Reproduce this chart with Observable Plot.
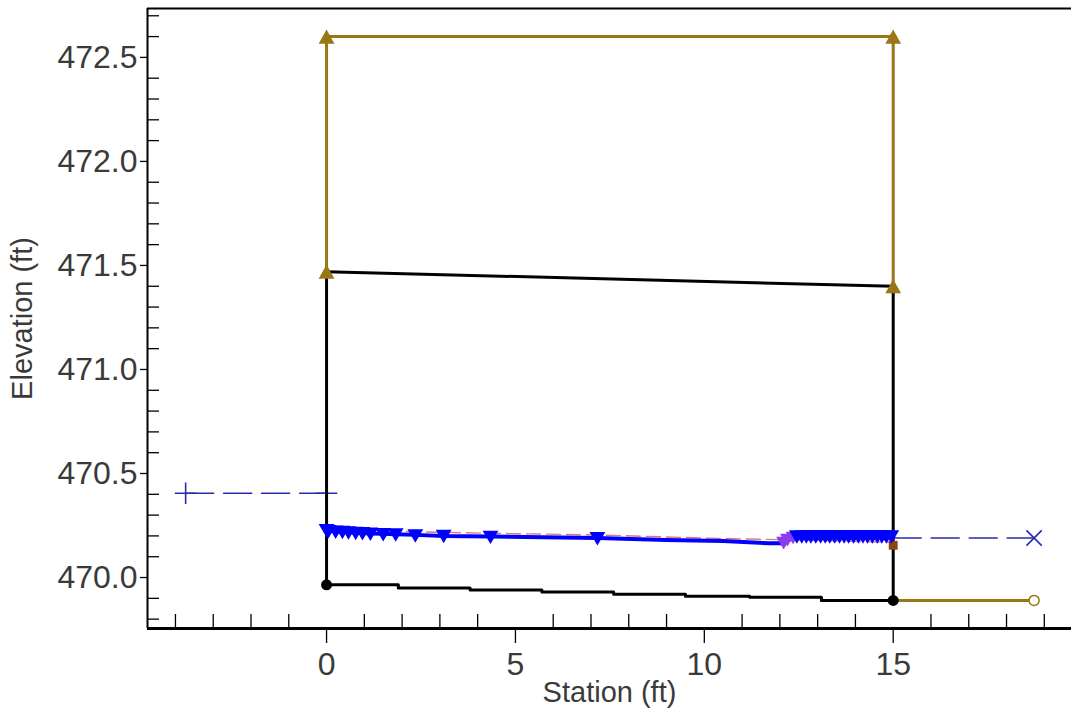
<!DOCTYPE html>
<html><head><meta charset="utf-8">
<script src="https://cdn.jsdelivr.net/npm/d3@7"></script>
<script src="https://cdn.jsdelivr.net/npm/@observablehq/plot@0.6"></script>
<style>body{margin:0;background:#fff;} svg{display:block}</style>
</head><body><div id="chart"></div>
<script>
// ---- data ----
const deckStation = [0, 0, 15, 15];
const deckElev = [471.47, 472.60, 472.60, 471.40];

const topChordStation = [0, 15];
const topChordElev = [471.47, 471.40];
const leftWallStation = [0, 0];
const leftWallElev = [469.965, 471.47];
const rightWallStation = [15, 15];
const rightWallElev = [471.40, 469.89];
const groundStation = [0, 1.9, 3.8, 5.7, 7.6, 9.5, 11.2, 13.1, 15];
const groundElev = [469.965, 469.95, 469.94, 469.93, 469.92, 469.91, 469.905, 469.89, 469.89];

const upWsStation = [-3.73, 0];
const upWsElev = [470.405, 470.405];
const dnWsStation = [15, 18.73];
const dnWsElev = [470.19, 470.19];
const dnGroundStation = [15, 18.73];
const dnGroundElev = [469.89, 469.89];

const egStation = [0, 2.0, 4.3, 7.2, 10.0, 12.1, 15];
const egElev = [470.232, 470.212, 470.203, 470.195, 470.18, 470.172, 470.16];

const wsStation = [0, 0.05, 0.24, 0.42, 0.58, 0.77, 0.95, 1.16, 1.5, 1.83, 2.35, 3.1, 4.34, 7.17, 9.0, 10.5, 11.7, 12.1, 12.3, 12.5, 15];
const wsElev = [470.23, 470.225, 470.222, 470.22, 470.218, 470.216, 470.214, 470.212, 470.21, 470.208, 470.205, 470.2, 470.197, 470.19, 470.18, 470.175, 470.165, 470.165, 470.19, 470.2, 470.2];

const wsMarkStation = [0, 0.05, 0.24, 0.42, 0.58, 0.77, 0.95, 1.16, 1.5, 1.83, 2.35, 3.1, 4.34, 7.17,
  12.45, 12.58, 12.7, 12.82, 12.95, 13.08, 13.2, 13.32, 13.45, 13.58, 13.7, 13.82, 13.95, 14.08, 14.2, 14.32, 14.45, 14.58, 14.7, 14.82, 14.95];
const wsMarkElev = [470.225, 470.22, 470.218, 470.216, 470.214, 470.212, 470.21, 470.208, 470.206, 470.204, 470.2, 470.197, 470.193, 470.186,
  470.195, 470.195, 470.195, 470.195, 470.195, 470.195, 470.195, 470.195, 470.195, 470.195, 470.195, 470.195, 470.195, 470.195, 470.195, 470.195, 470.195, 470.195, 470.195, 470.195, 470.195];

const purpleStation = [12.1, 12.2, 12.35];
const purpleElev = [470.165, 470.18, 470.19];

const xMajorTicks = [0, 5, 10, 15];
const xMinorTicks = [-4, -3, -2, -1, 1, 2, 3, 4, 6, 7, 8, 9, 11, 12, 13, 14, 16, 17, 18, 19];
const yMajorTicks = [470.0, 470.5, 471.0, 471.5, 472.0, 472.5];
const yMinorTicks = [469.8, 469.9, 470.1, 470.2, 470.3, 470.4, 470.6, 470.7, 470.8, 470.9, 471.1, 471.2, 471.3, 471.4, 471.6, 471.7, 471.8, 471.9, 472.1, 472.2, 472.3, 472.4, 472.6, 472.7];

// ---- helpers ----
const zip = (xs, ys) => xs.map((x, i) => ({x, y: ys[i]}));
const triDown = {draw(ctx, size) {
  const s = Math.sqrt(size) * 1.05;
  const h = s * 0.85;
  ctx.moveTo(-s / 2, -h / 2);
  ctx.lineTo(s / 2, -h / 2);
  ctx.lineTo(0, h / 2);
  ctx.closePath();
}};
const triUp = {draw(ctx, size) {
  const s = Math.sqrt(size) * 1.05;
  const h = s * 0.9;
  ctx.moveTo(-s / 2, h / 2);
  ctx.lineTo(s / 2, h / 2);
  ctx.lineTo(0, -h / 2);
  ctx.closePath();
}};

const gold = "#9a7614";
const blue = "#0000ff";
const navy = "#2b2bb0";
const W = 1071, H = 712, ML = 147, MR = 0, MT = 8, MB = 84;
const plotW = W - ML - MR, plotH = H - MT - MB;
const xDom = [-4.74, 19.72], yDom = [469.755, 472.735];
const font = "Liberation Sans, Arial, sans-serif";
const textColor = "#3a3a3a";

const chart = Plot.plot({
  width: W, height: H,
  marginLeft: ML, marginRight: MR, marginTop: MT, marginBottom: MB,
  x: {domain: xDom},
  y: {domain: yDom},
  style: {fontFamily: font, background: "white", color: textColor, overflow: "visible"},
  marks: [
    // frame (top, bottom, left)
    Plot.ruleY([yDom[1]], {stroke: "black", strokeWidth: 1.8}),
    Plot.ruleY([yDom[0]], {stroke: "black", strokeWidth: 3}),
    Plot.ruleX([xDom[0]], {stroke: "black", strokeWidth: 2}),
    // minor ticks inside
    Plot.tickX(xMinorTicks, {x: d => d, stroke: "black", strokeWidth: 1.3, insetTop: plotH - 14}),
    Plot.tickY(yMinorTicks, {y: d => d, stroke: "black", strokeWidth: 1.3, insetRight: plotW - 12}),
    // major axes
    Plot.axisX(xMajorTicks, {tickSize: 15, tickPadding: 9, fontSize: 32, label: null, strokeWidth: 1.3, stroke: "black", tickFormat: d => String(d)}),
    Plot.axisY(yMajorTicks, {tickSize: 7, tickPadding: 3, fontSize: 32, label: null, strokeWidth: 1.3, stroke: "black", tickFormat: d => d.toFixed(1)}),
    // axis titles
    Plot.text(["Station (ft)"], {frameAnchor: "bottom", textAnchor: "middle", dy: 73, fontSize: 29, fill: textColor, fontFamily: font}),
    Plot.text(["Elevation (ft)"], {frameAnchor: "left", textAnchor: "middle", dx: -125, rotate: -90, fontSize: 29, fill: textColor, fontFamily: font}),

    // downstream ground (gold) with open circle
    Plot.line(zip(dnGroundStation, dnGroundElev), {x: "x", y: "y", stroke: gold, strokeWidth: 3}),
    Plot.dot(zip([dnGroundStation[1]], [dnGroundElev[1]]), {x: "x", y: "y", r: 5, stroke: gold, fill: "white", strokeWidth: 1.5}),

    // dashed water surfaces
    Plot.line(zip(upWsStation, upWsElev), {x: "x", y: "y", stroke: navy, strokeWidth: 1.6, strokeDasharray: "28,10"}),
    Plot.dot(zip(upWsStation, upWsElev), {x: "x", y: "y", symbol: "plus", r: 7, stroke: navy, strokeWidth: 1.6}),
    Plot.line(zip(dnWsStation, dnWsElev), {x: "x", y: "y", stroke: navy, strokeWidth: 1.6, strokeDasharray: "28,10"}),
    Plot.dot(zip([dnWsStation[1]], [dnWsElev[1]]), {x: "x", y: "y", symbol: "times", r: 7, stroke: navy, strokeWidth: 1.6}),

    // culvert box (black)
    Plot.line(zip(groundStation, groundElev), {x: "x", y: "y", stroke: "black", strokeWidth: 3, curve: "step-after"}),
    Plot.line(zip(topChordStation, topChordElev), {x: "x", y: "y", stroke: "black", strokeWidth: 3}),
    Plot.line(zip(leftWallStation, leftWallElev), {x: "x", y: "y", stroke: "black", strokeWidth: 3}),
    Plot.line(zip(rightWallStation, rightWallElev), {x: "x", y: "y", stroke: "black", strokeWidth: 3}),
    Plot.dot(zip([0, 15], [469.965, 469.89]), {x: "x", y: "y", r: 5.5, fill: "black"}),

    // deck (gold) with triangles
    Plot.line(zip(deckStation, deckElev), {x: "x", y: "y", stroke: gold, strokeWidth: 3}),
    Plot.dot(zip(deckStation, deckElev), {x: "x", y: "y", symbol: triUp, r: 8.5, fill: gold}),

    // energy grade (red dashed)
    Plot.line(zip(egStation, egElev), {x: "x", y: "y", stroke: "#e07878", strokeWidth: 1.4, strokeDasharray: "14,6", dy: -2}),
    Plot.dot(zip([15], [470.155]), {x: "x", y: "y", symbol: "square", r: 5, fill: "#8b4513"}),

    // water surface (blue)
    Plot.line(zip(wsStation, wsElev), {x: "x", y: "y", stroke: blue, strokeWidth: 4}),
    Plot.line(zip(purpleStation, purpleElev), {x: "x", y: "y", stroke: "#8a3cf0", strokeWidth: 5}),
    Plot.dot(zip(purpleStation, purpleElev), {x: "x", y: "y", symbol: triDown, r: 8, fill: "#8a3cf0"}),
    Plot.dot(zip(wsMarkStation, wsMarkElev), {x: "x", y: "y", symbol: triDown, r: 8.5, fill: blue})
  ]
});
document.getElementById("chart").appendChild(chart);
</script>
</body></html>
